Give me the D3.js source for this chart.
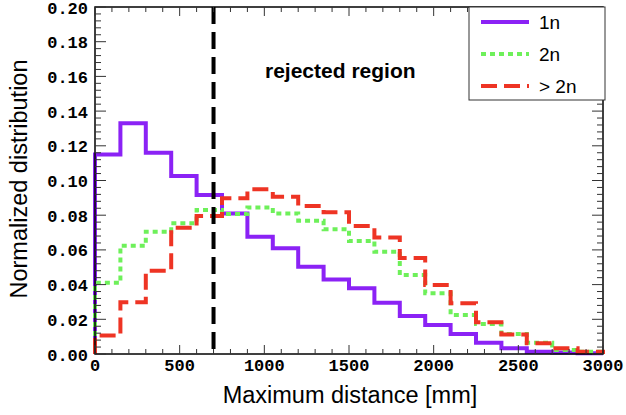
<!DOCTYPE html>
<html><head><meta charset="utf-8">
<script src="https://cdn.jsdelivr.net/npm/d3@7/dist/d3.min.js"></script>
<style>body{margin:0;background:#fff}svg{display:block}</style>
</head><body><svg id="c" width="626" height="415"></svg>
<script>
const binEdges = d3.range(0, 3001, 150);
const series1n = [0.115,0.133,0.116,0.1026,0.0916,0.081,0.0676,0.0609,0.0503,0.043,0.0379,0.0296,0.0219,0.0167,0.0115,0.0065,0.0033,0.0013,0.0008,0.0004];
const series2n = [0.041,0.0624,0.0705,0.0753,0.083,0.0807,0.0845,0.081,0.0768,0.0719,0.0651,0.059,0.0455,0.035,0.0225,0.0173,0.0115,0.0065,0.0023,0.0013];
const seriesGt2n = [0.0106,0.0298,0.048,0.0728,0.0795,0.0897,0.0949,0.0907,0.0853,0.0817,0.0738,0.0672,0.0553,0.0398,0.0292,0.0183,0.0113,0.0062,0.0033,0.0013];
const seriesNames = ["1n","2n","> 2n"];
const xTicks = [0,500,1000,1500,2000,2500,3000];
const yTicks = [0,0.02,0.04,0.06,0.08,0.10,0.12,0.14,0.16,0.18,0.20];
const cutValue = 700;

const svg = d3.select("#c");
const m = {l:95, t:7, r:23, b:61};
const W = 626 - m.l - m.r, H = 415 - m.t - m.b;
const x = d3.scaleLinear().domain([0,3000]).range([m.l, m.l+W]);
const y = d3.scaleLinear().domain([0,0.2]).range([m.t+H, m.t]);

const styles = [
  {color:"#8b22f5", dash:null, width:4},
  {color:"#6ef05a", dash:"5,4", width:4},
  {color:"#ee3424", dash:"16,7", width:4}
];
const allSeries = [series1n, series2n, seriesGt2n];

const g = svg.append("g");
const line = d3.line().x(d=>x(d[0])).y(d=>y(d[1])).curve(d3.curveStepAfter);
allSeries.forEach((s,i)=>{
  const pts = [[0,0]];
  s.forEach((v,j)=>pts.push([binEdges[j], v]));
  pts.push([3000, s[s.length-1]]);
  pts.push([3000, 0]);
  g.append("path").attr("d", line(pts)).attr("fill","none")
    .attr("stroke", styles[i].color).attr("stroke-width", styles[i].width)
    .attr("stroke-dasharray", styles[i].dash);
});

// cut line
g.append("line").attr("x1",x(cutValue)).attr("x2",x(cutValue)).attr("y1",y(0.2)).attr("y2",y(0))
  .attr("stroke","#000").attr("stroke-width",4).attr("stroke-dasharray","17,8");

// frame
g.append("rect").attr("x",m.l).attr("y",m.t).attr("width",W).attr("height",H)
  .attr("fill","none").attr("stroke","#000").attr("stroke-width",1.5);

// ticks (inward)
const tk = g.append("g").attr("stroke","#333").attr("stroke-width",1);
d3.range(0, 3001, 100).forEach(v=>{
  const major = v%500===0; const L = major?9:5;
  tk.append("line").attr("x1",x(v)).attr("x2",x(v)).attr("y1",y(0)).attr("y2",y(0)-L);
  tk.append("line").attr("x1",x(v)).attr("x2",x(v)).attr("y1",y(0.2)).attr("y2",y(0.2)+L);
});
d3.range(0, 51).forEach(k=>{
  const v = k*0.004; const major = k%5===0; const L = major?11:6;
  tk.append("line").attr("x1",x(0)).attr("x2",x(0)+L).attr("y1",y(v)).attr("y2",y(v));
  tk.append("line").attr("x1",x(3000)).attr("x2",x(3000)-L).attr("y1",y(v)).attr("y2",y(v));
});

// tick labels
const mono = "'Liberation Mono', 'DejaVu Sans Mono', monospace";
svg.append("g").selectAll("text").data(yTicks).join("text")
  .attr("x", m.l-7).attr("y", d=>y(d)+6.5).attr("text-anchor","end")
  .attr("font-family",mono).attr("font-weight","bold").attr("font-size",17)
  .text(d=>d.toFixed(2));
svg.append("g").selectAll("text").data(xTicks).join("text")
  .attr("x", d=>x(d)).attr("y", y(0)+17).attr("text-anchor","middle")
  .attr("font-family",mono).attr("font-weight","bold").attr("font-size",17)
  .text(d=>d);

// axis titles
const sans = "'Liberation Sans', Arial, sans-serif";
svg.append("text").attr("x", 350).attr("y", 403).attr("text-anchor","middle")
  .attr("font-family",sans).attr("font-size",23.5).text("Maximum distance [mm]");
svg.append("text").attr("transform","translate(27,179) rotate(-90)").attr("text-anchor","middle")
  .attr("font-family",sans).attr("font-size",23.5).text("Normalized distribution");

// rejected region label
svg.append("text").attr("x",265).attr("y",78).attr("font-family",sans).attr("font-weight","bold")
  .attr("font-size",21).text("rejected region");

// legend
const lg = svg.append("g");
lg.append("rect").attr("x",469).attr("y",m.t).attr("width",136).attr("height",93)
  .attr("fill","#fff").attr("stroke","#333").attr("stroke-width",1);
seriesNames.forEach((n,i)=>{
  const yy = 22 + i*32;
  lg.append("line").attr("x1",481).attr("x2",529).attr("y1",yy).attr("y2",yy)
    .attr("stroke",styles[i].color).attr("stroke-width",4).attr("stroke-dasharray",styles[i].dash);
  lg.append("text").attr("x",539).attr("y",yy+7).attr("font-family",sans).attr("font-size",19).text(n);
});
</script></body></html>
